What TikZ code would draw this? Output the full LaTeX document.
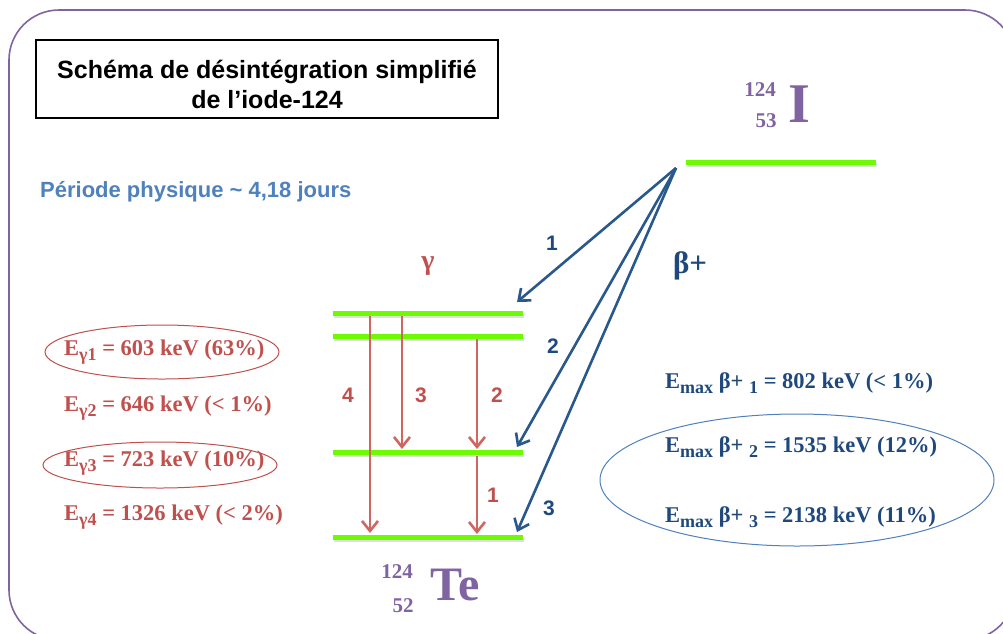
\documentclass[tikz,border=0pt]{standalone}
\usepackage{fontspec}
\setmainfont{Liberation Serif}
\setsansfont{Liberation Sans}
\usetikzlibrary{arrows.meta}
\definecolor{framec}{RGB}{128,100,162}
\definecolor{lvlc}{RGB}{110,250,0}
\definecolor{gred}{RGB}{192,80,77}
\definecolor{ared}{RGB}{208,102,96}
\definecolor{bdark}{RGB}{31,73,125}
\definecolor{barrow}{RGB}{40,88,140}
\definecolor{blight}{RGB}{79,129,189}
\definecolor{isoc}{RGB}{128,100,162}
\newcommand\sbs[1]{\raisebox{-0.55ex}{\fontsize{18}{18}\selectfont #1}}
\begin{document}
\begin{tikzpicture}[x=1pt,y=-1pt,
  levelline/.style={lvlc,line width=5pt},
  levelshadow/.style={black!25,line width=4pt,opacity=0.5},
  garrow/.style={ared,line width=2.6pt,-{Straight Barb[length=10pt,width=16pt,line width=2.6pt]}},
  barrowst/.style={barrow,line width=2.6pt,-{Straight Barb[length=10pt,width=16pt,line width=2.6pt]}},
  redtxt/.style={gred,font=\bfseries\fontsize{22.5}{26}\selectfont,anchor=west,inner sep=0pt},
  bluetxt/.style={bdark,font=\bfseries\fontsize{22.5}{26}\selectfont,anchor=west,inner sep=0pt},
  rednum/.style={gred,font=\sffamily\bfseries\fontsize{21}{24}\selectfont},
  bluenum/.style={bdark,font=\sffamily\bfseries\fontsize{21}{24}\selectfont},
  isotxt/.style={isoc,font=\bfseries\fontsize{21}{22}\selectfont,inner sep=0pt}
]
\useasboundingbox (0,0) rectangle (1003,633);
\fill[white] (0,0) rectangle (1003,633);
% frame
\draw[framec,line width=1.6pt,rounded corners=50pt] (9,10) rectangle (1015,640);

% title
\node[draw,line width=1.2pt,minimum width=462pt,minimum height=78pt,inner sep=0pt] (title) at (267,79) {};
\node[align=center,font=\sffamily\bfseries\fontsize{25}{30}\selectfont,inner sep=0pt] (titletxt) at (267,84)
  {Schéma de désintégration simplifié\\de l’iode-124};

\node[blight,font=\sffamily\bfseries\fontsize{22}{24}\selectfont,anchor=west,inner sep=0pt] (period) at (40,192) {Période physique \char`\~{} 4,18 jours};

% iodine
\node[isoc,font=\bfseries\fontsize{56}{56}\selectfont,inner sep=0pt] (I) at (799,104) {I};
\node[isotxt] (Ia) at (760,90) {124};
\node[isotxt] (Iz) at (766,121) {53};
\coordinate (IL) at (686,162);
\coordinate (IR) at (876,162);
\draw[levelshadow] ([shift={(1,2.5)}]IL) -- ([shift={(1,2.5)}]IR);
\draw[levelline] (IL) -- (IR);

% Te levels
\coordinate (L1a) at (333,313); \coordinate (L1b) at (523,313);
\coordinate (L2a) at (333,336); \coordinate (L2b) at (523,336);
\coordinate (L3a) at (333,452); \coordinate (L3b) at (523,452);
\coordinate (L4a) at (333,537); \coordinate (L4b) at (523,537);
\foreach \l in {1,2,3,4}{
  \draw[levelshadow] ([shift={(1,2.5)}]L\l a) -- ([shift={(1,2.5)}]L\l b);
  \draw[levelline] (L\l a) -- (L\l b);
}

% Te label
\node[isoc,font=\bfseries\fontsize{48}{48}\selectfont,inner sep=0pt] (Te) at (455,585) {Te};
\node[isotxt] (Ta) at (397,572) {124};
\node[isotxt] (Tz) at (403,606) {52};

% gamma arrows
\node[gred,font=\bfseries\fontsize{28}{28}\selectfont] (gam) at (428,266) {γ};
\coordinate (g4s) at (370,316); \coordinate (g4e) at (370,533);
\coordinate (g3s) at (402,316); \coordinate (g3e) at (402,449);
\coordinate (g2s) at (477,339); \coordinate (g2e) at (477,449);
\coordinate (g1s) at (477,456); \coordinate (g1e) at (477,534);
\draw[garrow] (g4s) -- (g4e);
\draw[garrow] (g3s) -- (g3e);
\draw[garrow] (g2s) -- (g2e);
\draw[garrow] (g1s) -- (g1e);
\node[rednum] (n4) at (348,395) {4};
\node[rednum] (n3) at (421,395) {3};
\node[rednum] (n2) at (497,395) {2};
\node[rednum] (n1) at (493,495) {1};

% beta arrows
\coordinate (bs) at (676,168);
\coordinate (b1e) at (517,302);
\coordinate (b2e) at (517,447);
\coordinate (b3e) at (517,532);
\draw[barrowst] (bs) -- (b1e);
\draw[barrowst] (bs) -- (b2e);
\draw[barrowst] (bs) -- (b3e);
\node[bluenum] (m1) at (552,243) {1};
\node[bluenum] (m2) at (553,346) {2};
\node[bluenum] (m3) at (549,508) {3};
\node[bdark,font=\bfseries\fontsize{31}{31}\selectfont] (bp) at (690,266) {β+};

% gamma energies
\node[redtxt] (e1) at (64,352) {E\sbs{γ1} = 603 keV (63\%)};
\node[redtxt] (e2) at (64,408) {E\sbs{γ2} = 646 keV (< 1\%)};
\node[redtxt] (e3) at (64,463) {E\sbs{γ3} = 723 keV (10\%)};
\node[redtxt] (e4) at (64,517) {E\sbs{γ4} = 1326 keV (< 2\%)};
\draw[gred,line width=1pt] (162,352) ellipse [x radius=117, y radius=27];
\draw[gred,line width=1pt] (160,465) ellipse [x radius=117, y radius=23];

% beta energies
\node[bluetxt] (f1) at (665,383) {E\sbs{max} β+ \sbs{1} = 802 keV (< 1\%)};
\node[bluetxt] (f2) at (665,447) {E\sbs{max} β+ \sbs{2} = 1535 keV (12\%)};
\node[bluetxt] (f3) at (665,517) {E\sbs{max} β+ \sbs{3} = 2138 keV (11\%)};
\draw[blight,line width=1pt] (797,480) ellipse [x radius=197, y radius=66];
\end{tikzpicture}
\end{document}
